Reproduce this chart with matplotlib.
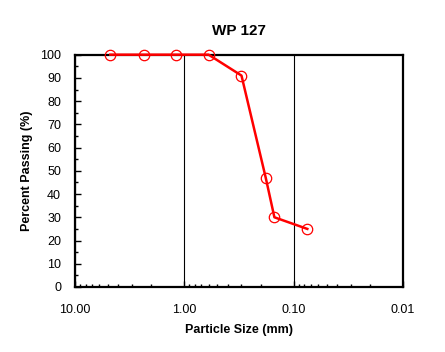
import numpy as np
import matplotlib
matplotlib.use('Agg')
import matplotlib.pyplot as plt
from matplotlib.ticker import FixedLocator, LogLocator, NullFormatter, MultipleLocator

plt.rcParams['font.family'] = ['Liberation Sans', 'DejaVu Sans']

particle_size_mm = [4.75, 2.36, 1.18, 0.60, 0.30, 0.18, 0.15, 0.075]
percent_passing = [100, 100, 100, 100, 91, 47, 30, 25]
x_tick_values = [10, 1, 0.1, 0.01]
x_tick_labels = ['10.00', '1.00', '0.10', '0.01']

fig = plt.figure(figsize=(4.45, 3.52), dpi=100)
ax = fig.add_axes([0.1685, 0.1847, 0.7371, 0.66])

ax.plot(particle_size_mm, percent_passing, color='red', linewidth=1.8,
        marker='o', markersize=7.5, markerfacecolor='none',
        markeredgecolor='red', markeredgewidth=0.9, clip_on=False, zorder=3)

ax.set_xscale('log')
ax.set_xlim(10, 0.01)
ax.set_ylim(0, 100)

ax.xaxis.set_major_locator(FixedLocator(x_tick_values))
ax.set_xticklabels(x_tick_labels)
ax.xaxis.set_minor_locator(LogLocator(base=10, subs=np.arange(2, 10)))
ax.xaxis.set_minor_formatter(NullFormatter())
ax.yaxis.set_major_locator(MultipleLocator(10))
ax.yaxis.set_minor_locator(MultipleLocator(5))

ax.grid(True, axis='x', which='major', color='black', linewidth=0.8)

ax.tick_params(which='both', direction='in', labelsize=9, color='black')
ax.tick_params(which='major', length=4, width=1)
ax.tick_params(which='minor', length=2.5, width=1)
ax.tick_params(axis='x', pad=12)
ax.tick_params(axis='y', pad=10)
for s in ax.spines.values():
    s.set_linewidth(1.6)

ax.set_title('WP 127', fontsize=11, fontweight='bold', pad=14)
ax.set_xlabel('Particle Size (mm)', fontsize=9, fontweight='bold', labelpad=6)
ax.set_ylabel('Percent Passing (%)', fontsize=9, fontweight='bold', labelpad=5)

fig.savefig('out.png', dpi=100)
